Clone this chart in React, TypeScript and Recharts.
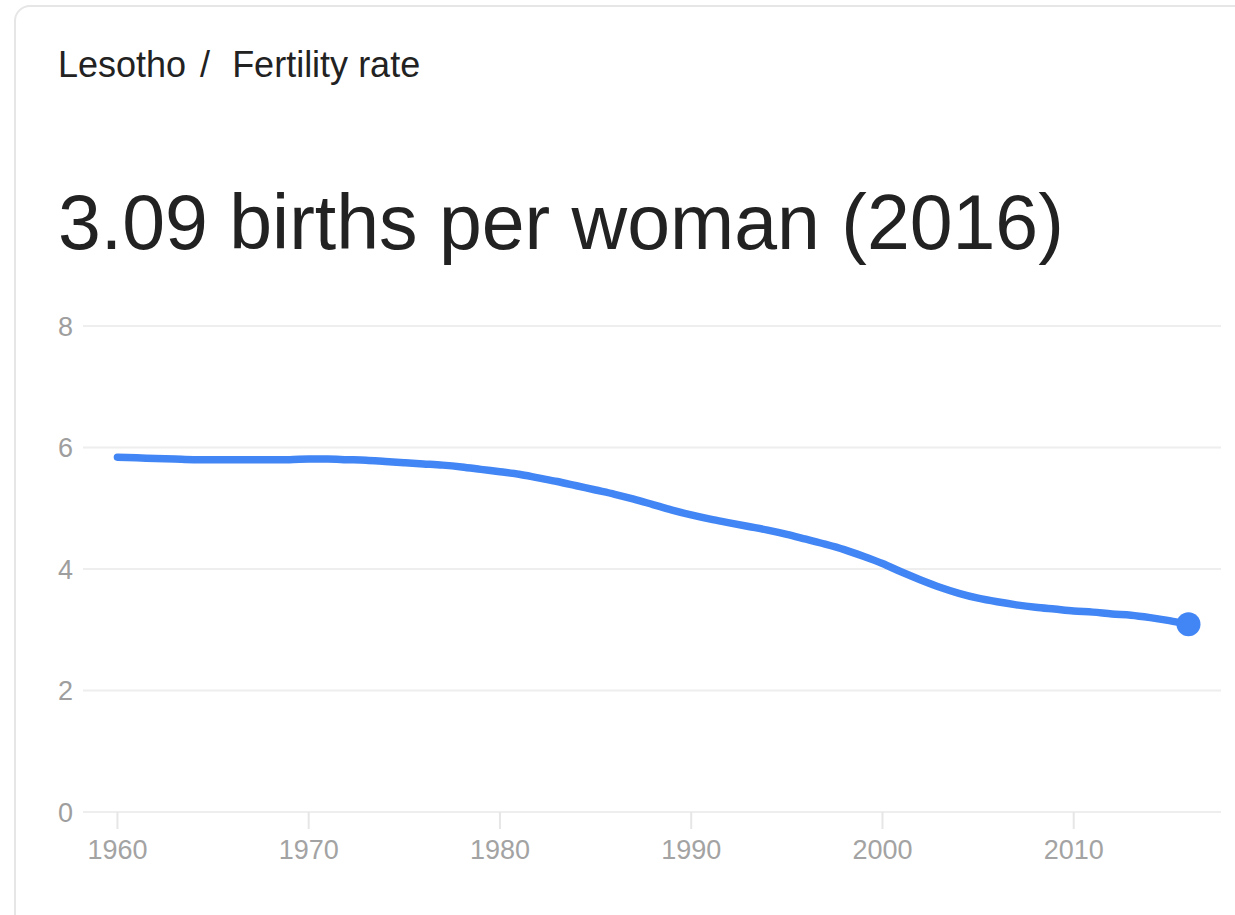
import { LineChart, Line, XAxis, YAxis, CartesianGrid } from "recharts";

const years = [
  1960, 1961, 1962, 1963, 1964, 1965, 1966, 1967, 1968, 1969,
  1970, 1971, 1972, 1973, 1974, 1975, 1976, 1977, 1978, 1979,
  1980, 1981, 1982, 1983, 1984, 1985, 1986, 1987, 1988, 1989,
  1990, 1991, 1992, 1993, 1994, 1995, 1996, 1997, 1998, 1999,
  2000, 2001, 2002, 2003, 2004, 2005, 2006, 2007, 2008, 2009,
  2010, 2011, 2012, 2013, 2014, 2015, 2016,
];

const fertility = [
  5.84, 5.83, 5.82, 5.81, 5.8, 5.8, 5.8, 5.8, 5.8, 5.8,
  5.81, 5.81, 5.8, 5.79, 5.77, 5.75, 5.73, 5.71, 5.68, 5.64,
  5.6, 5.56, 5.5, 5.44, 5.37, 5.3, 5.23, 5.15, 5.06, 4.97,
  4.89, 4.82, 4.76, 4.7, 4.64, 4.57, 4.49, 4.41, 4.32, 4.21,
  4.09, 3.95, 3.82, 3.7, 3.6, 3.52, 3.46, 3.41, 3.37, 3.34,
  3.31, 3.29, 3.26, 3.24, 3.2, 3.15, 3.09,
];

const xTicks = [1960, 1970, 1980, 1990, 2000, 2010];
const yTicks = [0, 2, 4, 6, 8];

const data = years.map((year, i) => ({ year, value: fertility[i] }));
const lastIndex = data.length - 1;

const font = "Arial, 'Liberation Sans', sans-serif";
const blue = "#4285f4";

const EndDot = (props: any) => {
  if (props.index !== lastIndex) return <g key={props.index} />;
  return <circle key={props.index} cx={props.cx} cy={props.cy} r={12} fill={blue} />;
};

const App = () => {
  return (
    <div
      style={{
        position: "fixed",
        left: 0,
        top: 0,
        width: 1235,
        height: 915,
        background: "#fff",
        overflow: "hidden",
        fontFamily: font,
      }}
    >
      <div
        style={{
          position: "absolute",
          left: 14,
          top: 5,
          width: 1300,
          height: 1000,
          border: "2px solid #e6e6e6",
          borderRadius: 16,
          boxSizing: "border-box",
        }}
      />
      <div
        style={{
          position: "absolute",
          left: 58,
          top: 47,
          fontSize: 36,
          lineHeight: 1,
          color: "#222",
          whiteSpace: "nowrap",
        }}
      >
        Lesotho
        <span style={{ marginLeft: 14, marginRight: 22 }}>/</span>
        Fertility rate
      </div>
      <div
        style={{
          position: "absolute",
          left: 58,
          top: 184,
          fontSize: 77,
          lineHeight: 1,
          color: "#222",
          whiteSpace: "nowrap",
        }}
      >
        3.09 births per woman (2016)
      </div>
      <div style={{ position: "absolute", left: 0, top: 300 }}>
        <LineChart
          width={1235}
          height={600}
          data={data}
          margin={{ top: 26, right: 14, bottom: 28, left: 0 }}
        >
          <CartesianGrid vertical={false} stroke="#eeeeee" strokeWidth={2} />
          <XAxis
            dataKey="year"
            type="number"
            domain={[1958.2, 2017.7]}
            ticks={xTicks}
            allowDataOverflow
            axisLine={false}
            tickLine={{ stroke: "#e6e6e6", strokeWidth: 2 }}
            tickSize={17}
            tickMargin={11}
            height={60}
            tick={{ fill: "#a3a3a3", fontSize: 27, fontFamily: font }}
          />
          <YAxis
            domain={[0, 8]}
            ticks={yTicks}
            width={83}
            axisLine={false}
            tickLine={false}
            tickMargin={4}
            tick={{ fill: "#9e9e9e", fontSize: 27, fontFamily: font }}
          />
          <Line
            type="monotone"
            dataKey="value"
            stroke={blue}
            strokeWidth={7.5}
            strokeLinecap="round"
            dot={EndDot}
            activeDot={false}
            isAnimationActive={false}
          />
        </LineChart>
      </div>
    </div>
  );
};

export default App;
